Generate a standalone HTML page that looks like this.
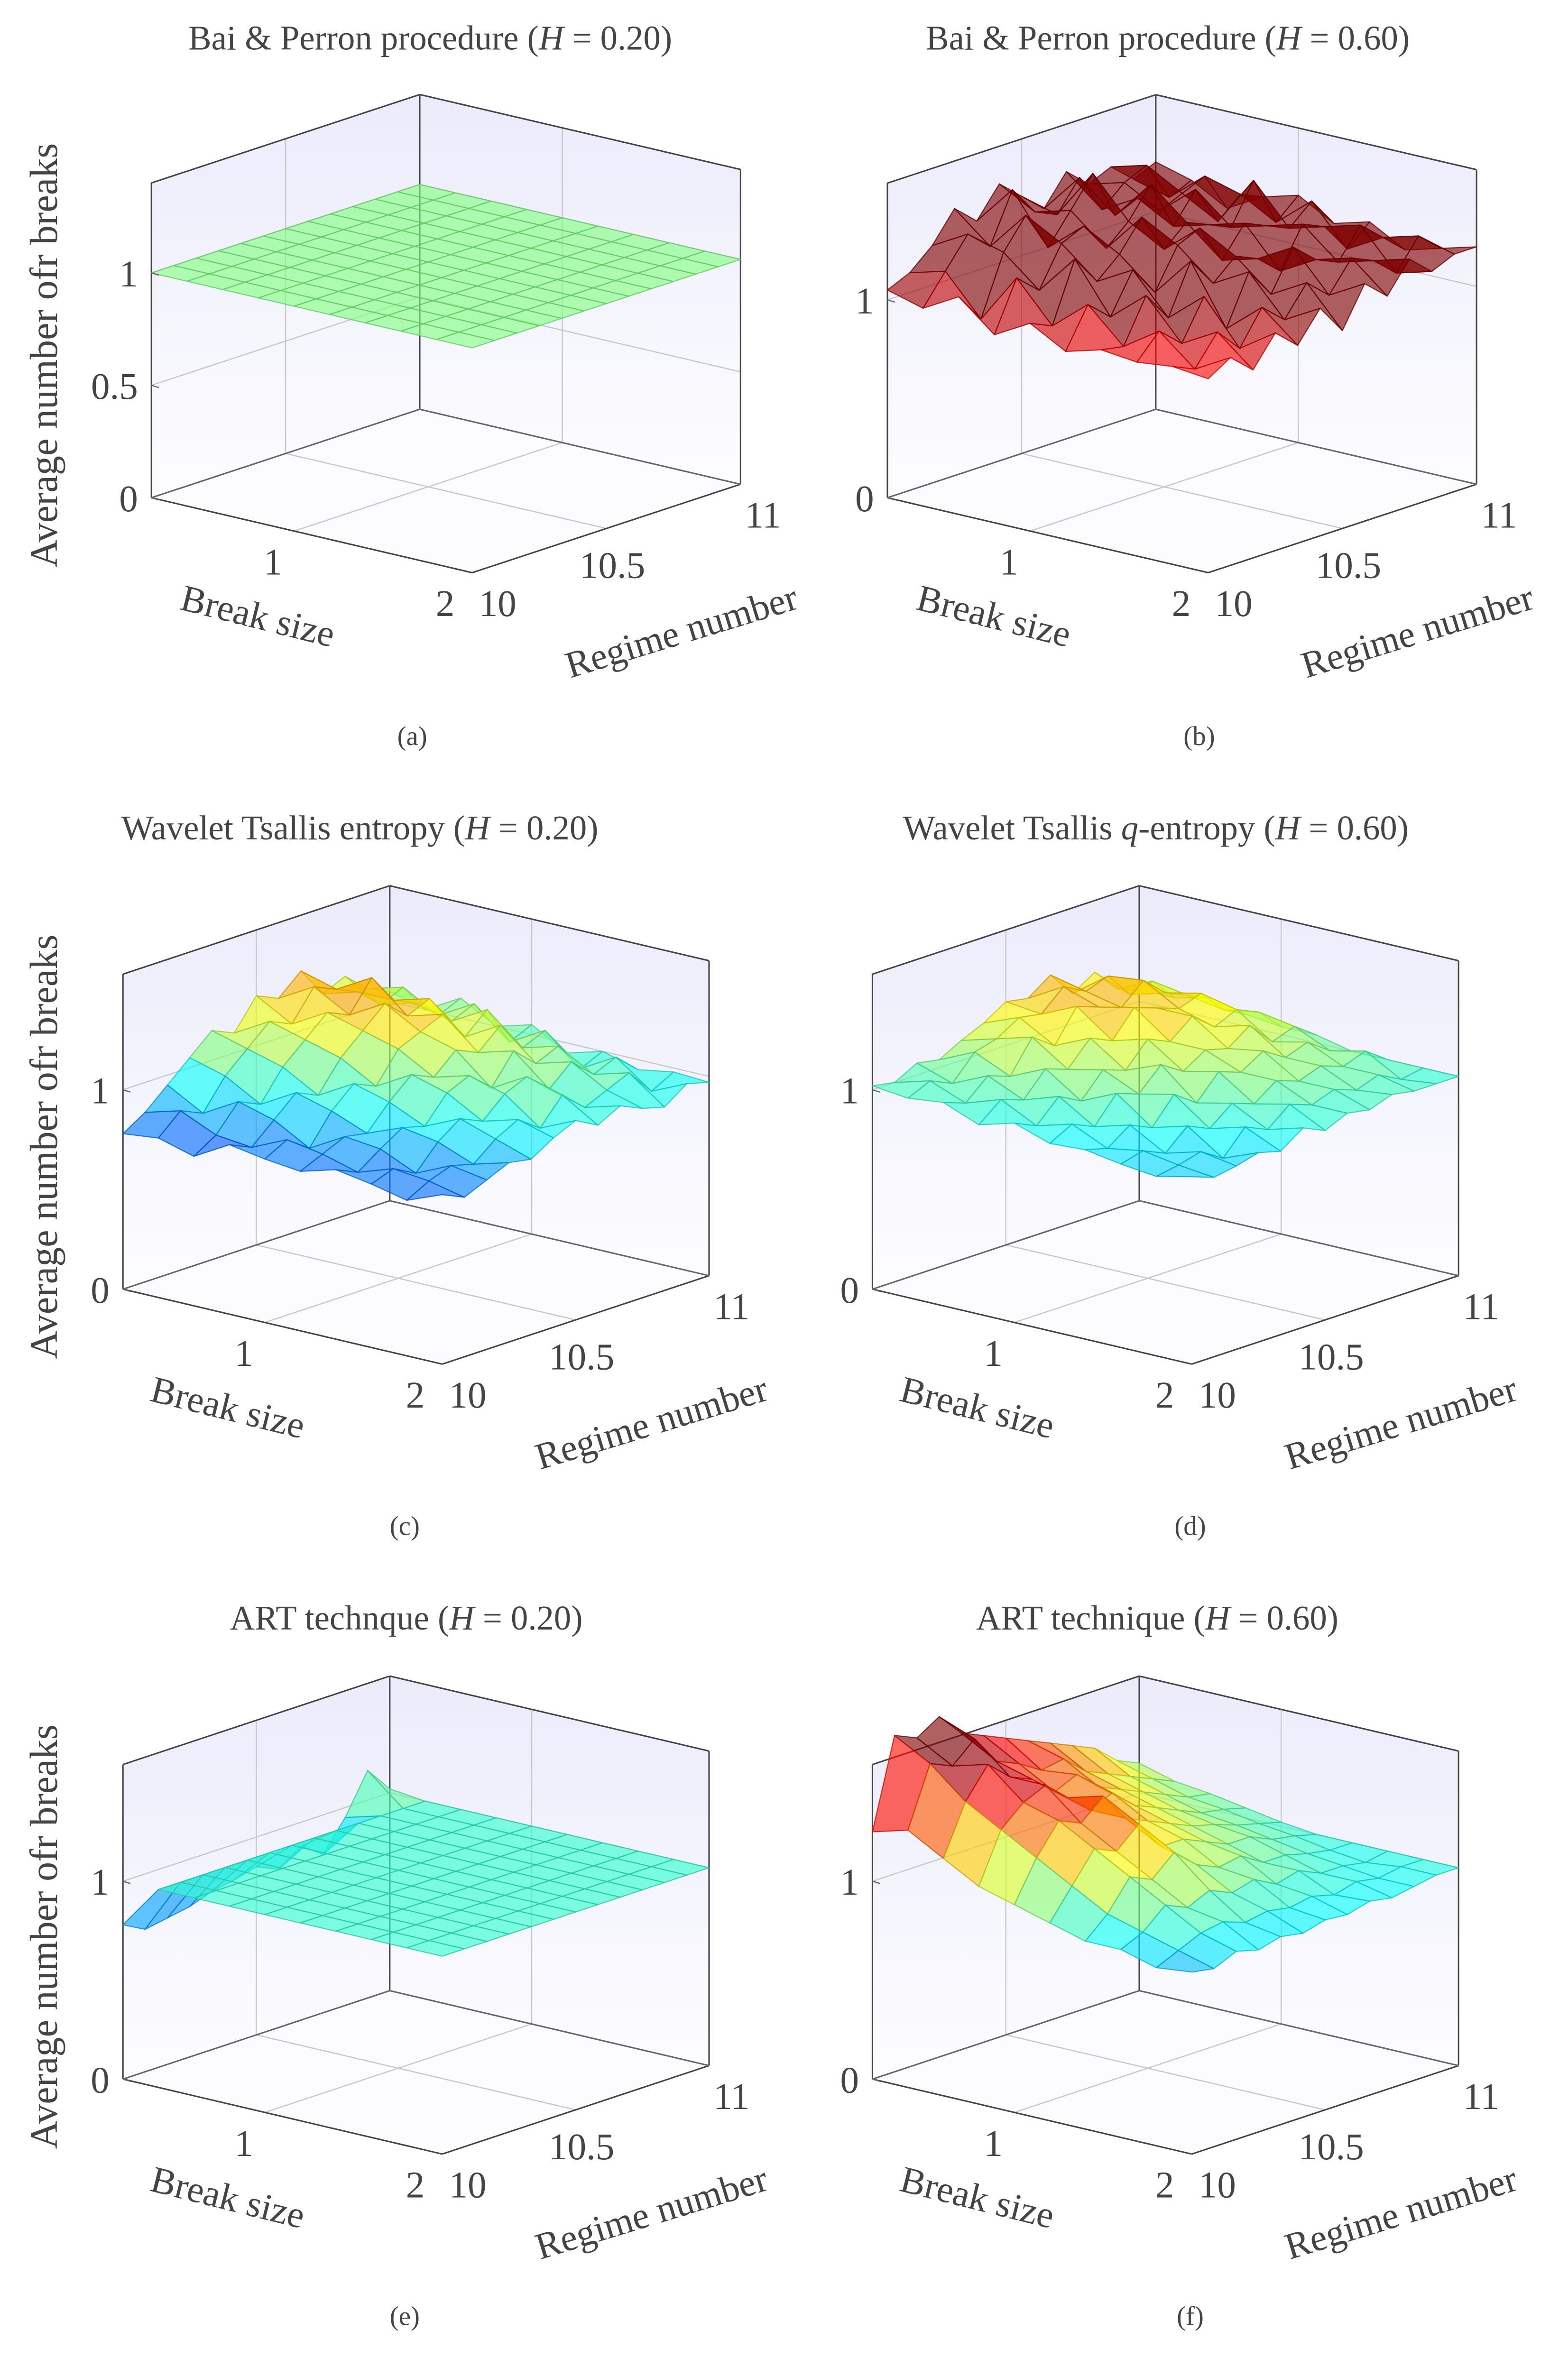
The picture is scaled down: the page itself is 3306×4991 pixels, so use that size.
<!DOCTYPE html>
<html><head><meta charset="utf-8">
<style>
html,body{margin:0;padding:0;background:#fff;}
svg{display:block;font-family:"Liberation Serif",serif;}
</style></head>
<body>
<svg id="fig" xmlns="http://www.w3.org/2000/svg" width="3306" height="4991" viewBox="0 0 1046 1579">
<defs>
<linearGradient id="wallg" x1="0" y1="0" x2="0" y2="1">
<stop offset="0" stop-color="#ebebfb"/><stop offset="1" stop-color="#fdfdff"/>
</linearGradient>
</defs>
</svg>
<script>
// ---- data ----
const breakSizes=[0.2,0.4,0.6,0.8,1.0,1.2,1.4,1.6,1.8,2.0];
const regimeNumbers=[10,10.083,10.167,10.25,10.333,10.417,10.5,10.583,10.667,10.75,10.833,10.917,11];
const zA=[
[1,1,1,1,1,1,1,1,1,1,1,1,1],[1,1,1,1,1,1,1,1,1,1,1,1,1],[1,1,1,1,1,1,1,1,1,1,1,1,1],
[1,1,1,1,1,1,1,1,1,1,1,1,1],[1,1,1,1,1,1,1,1,1,1,1,1,1],[1,1,1,1,1,1,1,1,1,1,1,1,1],
[1,1,1,1,1,1,1,1,1,1,1,1,1],[1,1,1,1,1,1,1,1,1,1,1,1,1],[1,1,1,1,1,1,1,1,1,1,1,1,1],
[1,1,1,1,1,1,1,1,1,1,1,1,1]];
const zB=[
[1.05,1.1,1.2,1.35,1.25,1.4,1.3,1.2,1.35,1.25,1.3,1.2,1.25],
[1.0,1.15,1.3,1.2,1.45,1.3,1.25,1.4,1.2,1.3,1.35,1.15,1.2],
[1.1,0.95,1.25,1.4,1.2,1.35,1.5,1.25,1.3,1.2,1.25,1.3,1.1],
[0.95,1.2,1.1,1.3,1.35,1.2,1.3,1.45,1.2,1.35,1.15,1.25,1.2],
[1.05,1.0,1.3,1.15,1.25,1.4,1.2,1.3,1.25,1.2,1.4,1.15,1.25],
[0.95,1.15,1.05,1.25,1.1,1.3,1.35,1.15,1.3,1.25,1.2,1.3,1.15],
[1.0,0.98,1.2,1.05,1.3,1.15,1.25,1.2,1.1,1.3,1.25,1.1,1.2],
[0.98,1.1,1.0,1.2,1.0,1.25,1.1,1.3,1.2,1.15,1.3,1.2,1.1],
[1.0,0.95,1.1,0.98,1.15,1.05,1.2,1.1,1.25,1.2,1.1,1.25,1.15],
[0.98,1.05,0.95,1.1,1.0,1.15,1.0,1.2,1.1,1.25,1.15,1.2,1.2]];
const zC=[
[0.78,0.85,0.95,1.05,1.15,1.1,1.25,1.2,1.3,1.15,1.2,1.1,1.05],
[0.8,0.9,0.85,1.0,1.1,1.2,1.15,1.3,1.25,1.2,1.1,1.15,1.0],
[0.75,0.82,0.95,0.9,1.05,1.15,1.25,1.2,1.35,1.2,1.15,1.05,1.1],
[0.85,0.8,0.9,1.0,0.95,1.1,1.2,1.3,1.2,1.25,1.1,1.15,1.0],
[0.82,0.88,0.8,0.95,1.05,1.0,1.15,1.2,1.25,1.1,1.2,1.0,1.05],
[0.8,0.85,0.9,0.88,1.0,1.1,1.05,1.15,1.1,1.2,1.05,1.1,0.95],
[0.85,0.8,0.88,0.95,0.92,1.05,1.1,1.0,1.15,1.05,1.1,0.95,1.0],
[0.82,0.86,0.8,0.92,1.0,0.95,1.05,1.1,1.0,1.1,1.0,1.05,0.95],
[0.78,0.84,0.88,0.85,0.94,1.0,0.92,1.05,0.95,1.0,1.05,0.92,0.98],
[0.85,0.8,0.85,0.9,0.88,0.95,1.0,0.94,1.0,0.95,0.92,1.0,0.97]];
const zD=[
[1.02,1.0,1.06,1.04,1.1,1.15,1.22,1.2,1.28,1.15,1.22,1.1,1.06],
[1.0,1.05,1.0,1.12,1.15,1.22,1.2,1.3,1.24,1.28,1.15,1.18,1.06],
[1.02,0.98,1.08,1.04,1.2,1.12,1.28,1.24,1.2,1.3,1.2,1.15,1.1],
[0.95,1.04,1.0,1.12,1.08,1.2,1.15,1.28,1.24,1.2,1.24,1.12,1.06],
[1.0,0.95,1.06,1.0,1.12,1.08,1.2,1.15,1.24,1.15,1.2,1.15,1.04],
[0.94,1.0,0.95,1.08,1.04,1.15,1.08,1.15,1.12,1.2,1.08,1.12,1.04],
[0.95,0.92,1.0,0.95,1.08,1.0,1.12,1.08,1.15,1.08,1.12,1.04,1.0],
[0.92,0.95,0.9,1.0,0.95,1.04,1.0,1.08,1.04,1.08,1.04,1.08,1.0],
[0.9,0.92,0.95,0.88,1.0,0.95,1.04,1.0,1.04,1.0,1.04,0.98,1.0],
[0.94,0.9,0.92,0.95,0.92,1.0,0.95,1.0,0.98,1.02,1.0,1.0,1.0]];
const zE=[
[0.78,0.72,0.74,0.76,0.8,0.82,0.85,0.8,0.88,0.8,0.95,1.15,1.02],
[1,1,1,1,1,1,1,1,1,1,1,1,1],[1,1,1,1,1,1,1,1,1,1,1,1,1],[1,1,1,1,1,1,1,1,1,1,1,1,1],
[1,1,1,1,1,1,1,1,1,1,1,1,1],[1,1,1,1,1,1,1,1,1,1,1,1,1],[1,1,1,1,1,1,1,1,1,1,1,1,1],
[1,1,1,1,1,1,1,1,1,1,1,1,1],[1,1,1,1,1,1,1,1,1,1,1,1,1],[1,1,1,1,1,1,1,1,1,1,1,1,1]];
const zF=[
[1.25,1.7,1.65,1.72,1.6,1.55,1.5,1.45,1.4,1.35,1.3,1.2,1.15],
[1.3,1.6,1.55,1.65,1.5,1.45,1.38,1.4,1.3,1.25,1.2,1.15,1.1],
[1.2,1.45,1.6,1.5,1.45,1.35,1.4,1.3,1.25,1.2,1.15,1.1,1.08],
[1.1,1.35,1.45,1.5,1.4,1.3,1.35,1.25,1.2,1.15,1.1,1.08,1.05],
[1.05,1.25,1.4,1.35,1.45,1.3,1.25,1.2,1.15,1.12,1.08,1.05,1.02],
[1.0,1.15,1.3,1.25,1.35,1.2,1.2,1.15,1.1,1.1,1.05,1.03,1.0],
[0.95,1.05,1.2,1.15,1.25,1.15,1.1,1.12,1.05,1.05,1.02,1.0,1.0],
[0.95,1.0,1.1,1.05,1.1,1.05,1.08,1.02,1.05,1.0,1.0,0.98,1.0],
[0.9,0.95,1.0,1.02,0.98,1.0,0.98,1.0,0.97,1.0,0.98,1.0,1.0],
[0.92,0.9,0.95,0.92,0.95,0.93,0.96,0.95,0.98,0.96,0.98,1.0,1.0]];
const zTicksA=[0,0.5,1];
const zTicksOther=[0,1];
const titles=["Bai & Perron procedure (","Bai & Perron procedure (","Wavelet Tsallis entropy (","Wavelet Tsallis q-entropy (","ART technque (","ART technique ("];
const hValues=["0.20","0.60","0.20","0.60","0.20","0.60"];
const captions=["(a)","(b)","(c)","(d)","(e)","(f)"];

// ---- layout ----
const panels=[
 {id:'a',z:zA,L:[101,332],F:[315,382],R:[494,323],unit:150,zmax:1.4,c0:0,c1:2,ticks:zTicksA,tx:287,ty:25,cx:275,cy:491,ylab:true},
 {id:'b',z:zB,L:[592,332],F:[806,382],R:[985,323],unit:132,zmax:1.59,c0:0.3,c1:1.1,ticks:zTicksOther,tx:779,ty:25,cx:800,cy:491,ylab:false},
 {id:'c',z:zC,L:[82,860],F:[295,910],R:[473,851],unit:133,zmax:1.58,c0:0.6,c1:1.55,ticks:zTicksOther,tx:240,ty:552,cx:270,cy:1018,ylab:true},
 {id:'d',z:zD,L:[582,860],F:[795,910],R:[973,851],unit:133,zmax:1.58,c0:0.6,c1:1.55,ticks:zTicksOther,tx:771,ty:552,cx:794,cy:1018,ylab:false},
 {id:'e',z:zE,L:[82,1387],F:[295,1437],R:[473,1378],unit:132,zmax:1.59,c0:0.611,c1:1.537,ticks:zTicksOther,tx:271,ty:1079,cx:270,cy:1545,ylab:true},
 {id:'f',z:zF,L:[582,1387],F:[795,1437],R:[973,1378],unit:132,zmax:1.59,c0:0.6,c1:1.6,ticks:zTicksOther,tx:772,ty:1079,cx:794,cy:1545,ylab:false}
];
const NS='http://www.w3.org/2000/svg';
const svg=document.getElementById('fig');
function mk(tag,attrs,parent){const e=document.createElementNS(NS,tag);for(const k in attrs)e.setAttribute(k,attrs[k]);(parent||svg).appendChild(e);return e;}
function jet(t){t=Math.max(0,Math.min(1,t));const c=v=>Math.max(0,Math.min(1,v));
 return [c(1.5-Math.abs(4*t-3)),c(1.5-Math.abs(4*t-2)),c(1.5-Math.abs(4*t-1))];}
function rgb(a,k){return 'rgb('+a.map(v=>Math.round(v*255*k)).join(',')+')';}

panels.forEach((p,pi)=>{
 const g=mk('g',{});
 
 
 const proj=(b,r,z)=>{const u=(b-0.2)/1.8,v=(r-10);
  return [p.L[0]+u*(p.F[0]-p.L[0])+v*(p.R[0]-p.F[0]), p.L[1]+u*(p.F[1]-p.L[1])+v*(p.R[1]-p.F[1])-z*p.unit];};
 const pt=a=>a[0].toFixed(2)+','+a[1].toFixed(2);
 const Lb=proj(0.2,10,0),Bb=proj(0.2,11,0),Rb=proj(2,11,0),Fb=proj(2,10,0);
 const Lt=proj(0.2,10,p.zmax),Bt=proj(0.2,11,p.zmax),Rt=proj(2,11,p.zmax);
 const w1=mk('polygon',{points:[Lb,Bb,Bt,Lt].map(pt).join(' '),fill:'url(#wallg)'},g);
 
 const w2=mk('polygon',{points:[Bb,Rb,Rt,Bt].map(pt).join(' '),fill:'url(#wallg)'},g);
 
 const fl=mk('polygon',{points:[Lb,Fb,Rb,Bb].map(pt).join(' '),fill:'#fcfcff'},g);
 
 const gl=(a,b)=>mk('line',{x1:a[0],y1:a[1],x2:b[0],y2:b[1],stroke:'#c8c8c8','stroke-width':0.8},g);
 p.ticks.forEach(t=>{if(t>0){gl(proj(0.2,10,t),proj(0.2,11,t));gl(proj(0.2,11,t),proj(2,11,t));}});
 gl(proj(1,10,0),proj(1,11,0));gl(proj(1,11,0),proj(1,11,p.zmax));
 gl(proj(0.2,10.5,0),proj(2,10.5,0));gl(proj(0.2,10.5,0),proj(0.2,10.5,p.zmax));
 const el=(a,b,c)=>mk('line',{x1:a[0],y1:a[1],x2:b[0],y2:b[1],stroke:c||'#444','stroke-width':1},g);
 el(Lb,Lt);el(Bb,Bt);el(Rb,Rt);el(Lt,Bt);el(Bt,Rt);el(Lb,Fb);el(Fb,Rb);el(Lb,Bb,'#666');el(Bb,Rb,'#666');
 const cells=[];
 for(let i=0;i<breakSizes.length-1;i++)for(let j=0;j<regimeNumbers.length-1;j++)
  cells.push([i,j,(breakSizes.length-i)+(j)*0.75]);
 cells.sort((a,b)=>b[2]-a[2]);
 const sg=mk('g',{},g);
 
 cells.forEach(([i,j])=>{
  const zz=[p.z[i][j],p.z[i][j+1],p.z[i+1][j+1],p.z[i+1][j]];
  const pts=[proj(breakSizes[i],regimeNumbers[j],zz[0]),proj(breakSizes[i],regimeNumbers[j+1],zz[1]),
   proj(breakSizes[i+1],regimeNumbers[j+1],zz[2]),proj(breakSizes[i+1],regimeNumbers[j],zz[3])];
  const m=(zz[0]+zz[1]+zz[2]+zz[3])/4;
  const col=jet((m-p.c0)/(p.c1-p.c0));
  const poly=mk('polygon',{points:pts.map(pt).join(' '),fill:rgb(col,1),'fill-opacity':0.62,stroke:rgb(col,0.78),'stroke-opacity':0.8,'stroke-width':0.7,'stroke-linejoin':'round'},sg);
  
  
 });
 const tx=(s,x,y,attrs,name)=>{const t=mk('text',Object.assign({x:x,y:y,fill:'#444','font-size':25,'text-anchor':'middle'},attrs||{}),g);t.textContent=s;
  return t;};
 const title=mk('text',{x:p.tx,y:p.ty+8,fill:'#444','font-size':23,'text-anchor':'middle'},g);
 
 if(titles[pi].indexOf('q-')>=0){
  title.appendChild(document.createTextNode('Wavelet Tsallis '));
  const q=mk('tspan',{'font-style':'italic'},title);q.textContent='q';
  title.appendChild(document.createTextNode('-entropy ('));
 } else title.appendChild(document.createTextNode(titles[pi]));
 const hs=mk('tspan',{'font-style':'italic'},title);hs.textContent='H';
 title.appendChild(document.createTextNode(' = '+hValues[pi]+')'));
 tx(captions[pi],p.cx,p.cy+6,{'font-size':18},'subcaption');
 p.ticks.forEach(t=>{const q=proj(0.2,10,t);tx(String(t),q[0]-9,q[1]+9,{'text-anchor':'end'},'z-tick-label');
  mk('line',{x1:q[0],y1:q[1],x2:q[0]+5,y2:q[1]+1.5,stroke:'#666','stroke-width':0.8},g);});
 const b1=proj(1,10,0);tx('1',b1[0]-14,b1[1]+29,{},'break-tick-label');
 tx('2',Fb[0]-18,Fb[1]+29,{},'break-tick-label');
 tx('10',Fb[0]+17,Fb[1]+29,{},'regime-tick-label');
 const r5=proj(2,10.5,0);tx('10.5',r5[0]+4,r5[1]+33,{},'regime-tick-label');
 tx('11',Rb[0]+15,Rb[1]+29,{},'regime-tick-label');
 tx('Break size',Fb[0]-145,Fb[1]+37,{transform:'rotate(14 '+(Fb[0]-145)+' '+(Fb[1]+37)+')'},'x-axis-title');
 tx('Regime number',Fb[0]+142,Fb[1]+47,{transform:'rotate(-17 '+(Fb[0]+142)+' '+(Fb[1]+47)+')'},'y-axis-title');
 if(p.ylab){const yy=p.L[1]-95;tx('Average number ofr breaks',38,yy,{'font-size':26,transform:'rotate(-90 38 '+yy+')'},'z-axis-title');}
});
</script>
</body></html>
